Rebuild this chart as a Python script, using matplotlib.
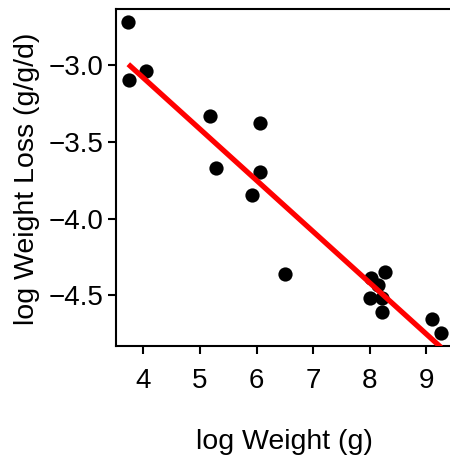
import matplotlib
matplotlib.use("Agg")
import matplotlib.pyplot as plt
import numpy as np

log_weight = [3.731, 3.744, 4.039, 5.176, 6.060, 5.277, 6.060, 5.913, 6.502,
              8.017, 8.270, 8.151, 8.005, 8.211, 8.222, 9.106, 9.260]
log_loss = [-2.719, -3.096, -3.035, -3.329, -3.378, -3.672, -3.694, -3.846, -4.363,
            -4.386, -4.346, -4.433, -4.520, -4.520, -4.611, -4.655, -4.748]
fit_intercept = -1.747
fit_slope = -0.334

x_ticks = [4, 5, 6, 7, 8, 9]
y_ticks = [-3.0, -3.5, -4.0, -4.5]
x_label = "log Weight (g)"
y_label = "log Weight Loss (g/g/d)"

plt.rcParams['font.family'] = ['Liberation Sans', 'DejaVu Sans']

fig = plt.figure(figsize=(4.5, 4.59), dpi=100)
ax = fig.add_axes([0.2571, 0.2462, 0.7507, 0.7342])

ax.scatter(log_weight, log_loss, s=105, color='black', zorder=3, linewidths=0)
xs = np.array([min(log_weight), max(log_weight)])
ax.plot(xs, fit_intercept + fit_slope * xs, color='#ff0000', lw=3.8, zorder=4,
        solid_capstyle='butt')

ax.set_xlim(3.5085, 9.481)
ax.set_ylim(-4.831, -2.633)
ax.set_xticks(x_ticks)
ax.set_xticklabels([str(t) for t in x_ticks])
ax.set_yticks(y_ticks)
ax.set_yticklabels([f"{t:.1f}".replace('-', '\u2212') for t in y_ticks])

for sp in ax.spines.values():
    sp.set_linewidth(1.5)
ax.tick_params(axis='both', labelsize=20, length=5.5, width=1.5, direction='out')
ax.tick_params(axis='x', pad=10)
ax.tick_params(axis='y', pad=3)

ax.set_xlabel(x_label, fontsize=20.5, va='center')
ax.xaxis.set_label_coords(0.5, -0.285)
ax.set_ylabel(y_label, fontsize=20.5, va='center')
ax.yaxis.set_label_coords(-0.2626, 0.4955)

fig.savefig("out.png", dpi=100)
